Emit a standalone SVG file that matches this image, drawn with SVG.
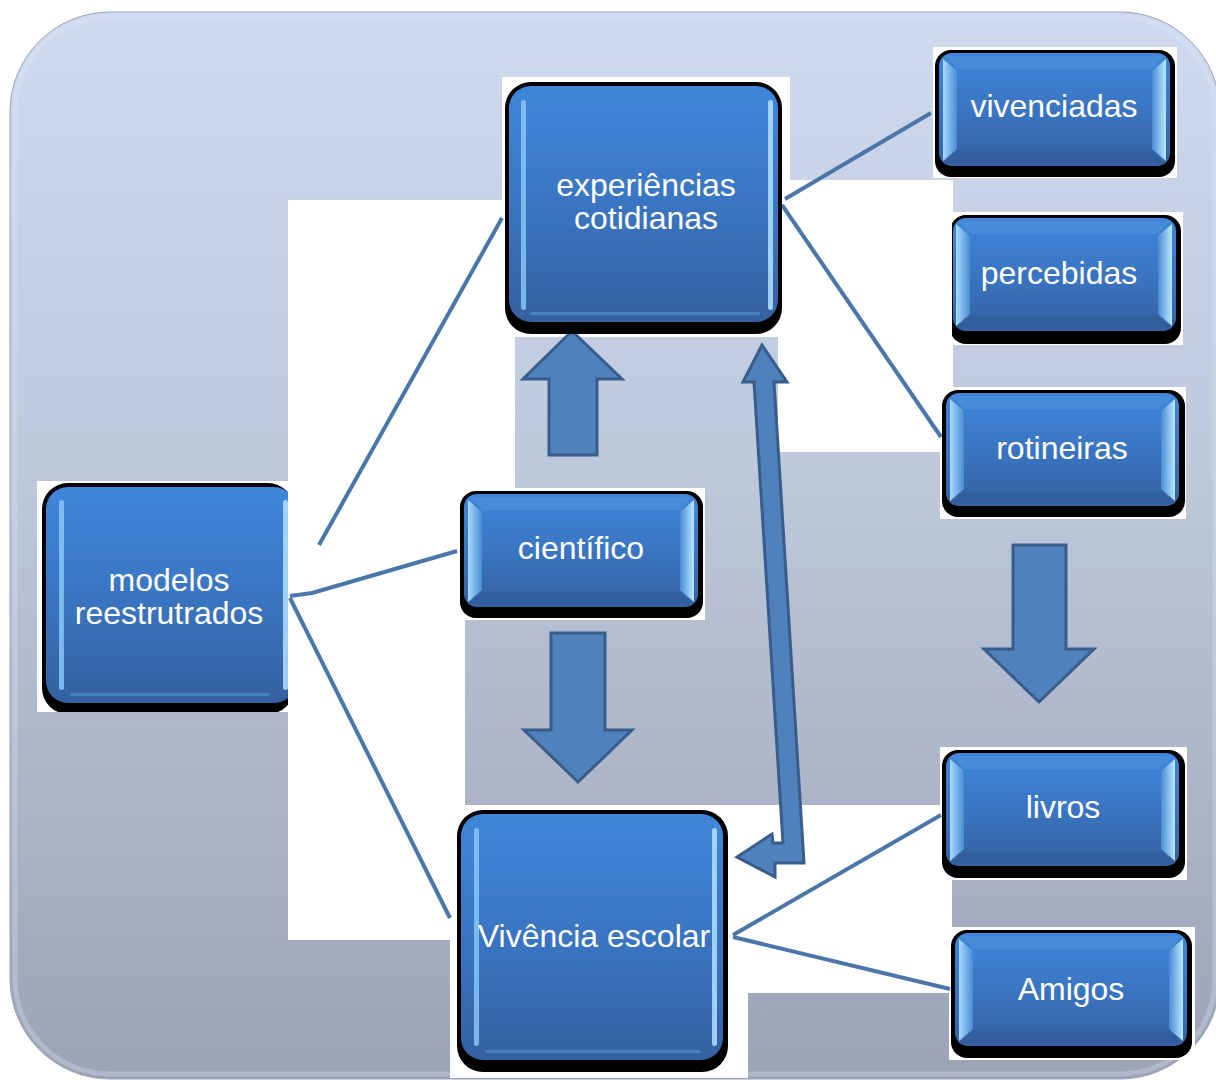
<svg xmlns="http://www.w3.org/2000/svg" width="1216" height="1080" viewBox="0 0 1216 1080">
<defs>
<linearGradient id="bg" gradientUnits="userSpaceOnUse" x1="0" y1="12" x2="0" y2="1079">
<stop offset="0" stop-color="#cfdaef"/>
<stop offset="0.45" stop-color="#bdc7da"/>
<stop offset="1" stop-color="#9ca3b4"/>
</linearGradient>
<linearGradient id="body" x1="0" y1="0" x2="0" y2="1">
<stop offset="0" stop-color="#3f86da"/>
<stop offset="0.5" stop-color="#3a75c2"/>
<stop offset="1" stop-color="#3461a0"/>
</linearGradient>
<linearGradient id="bevL" x1="0" y1="0" x2="1" y2="0">
<stop offset="0" stop-color="#a6dbff"/>
<stop offset="1" stop-color="#4a8bd4"/>
</linearGradient>
<linearGradient id="bevR" x1="0" y1="0" x2="1" y2="0">
<stop offset="0" stop-color="#4a8bd4"/>
<stop offset="1" stop-color="#b8e8ff"/>
</linearGradient>
<clipPath id="clipM"><rect x="37" y="481" width="251" height="231"/></clipPath>
<clipPath id="clipP"><rect x="952" y="212" width="231" height="133"/></clipPath>
<style>
.w{fill:#ffffff}
.sh{fill:#000000}
.bd{fill:url(#body)}
.bl{fill:url(#bevL)}
.br{fill:url(#bevR)}
.bt{fill:#5a9be0;opacity:0.35}
.bb{fill:#2c5590;opacity:0.35}
.hl{fill:#8ccaf8;opacity:0.8}
.hr{fill:#b0e2ff;opacity:0.85}
.t{font-family:"Liberation Sans",Arial,sans-serif;font-size:32px;fill:#ffffff;text-anchor:middle}
.ln{stroke:#4a76aa;stroke-width:4;fill:none;stroke-linecap:butt}
.ar{fill:#4f81bd;stroke:#385d8a;stroke-width:3;stroke-linejoin:miter}
</style>
</defs>

<rect x="10" y="12" width="1210" height="1067" rx="100" ry="100" fill="url(#bg)" stroke="#9aa3b8" stroke-width="1"/>
<rect x="15" y="17" width="1200" height="1057" rx="95" ry="95" fill="none" stroke="#dfe7f7" stroke-opacity="0.3" stroke-width="5"/>

<g id="patches">
<rect class="w" x="502" y="77" width="288" height="260"/>
<rect class="w" x="288" y="200" width="227" height="288"/>
<rect class="w" x="288" y="488" width="177" height="452"/>
<rect class="w" x="778" y="180" width="175" height="272"/>
<rect class="w" x="933" y="47" width="244" height="131"/>
<rect class="w" x="952" y="212" width="231" height="133"/>
<rect class="w" x="940" y="387" width="246" height="132"/>
<rect class="w" x="37" y="481" width="251" height="231"/>
<rect class="w" x="460" y="488" width="245" height="132"/>
<rect class="w" x="450" y="805" width="298" height="273"/>
<rect class="w" x="735" y="805" width="217" height="188"/>
<rect class="w" x="940" y="747" width="247" height="133"/>
<rect class="w" x="949" y="927" width="246" height="133"/>
</g>

<g id="connectors">
<line class="ln" x1="319" y1="545" x2="502" y2="218"/>
<polyline class="ln" points="290,596 312,593 457,551"/>
<line class="ln" x1="290" y1="598" x2="450" y2="918"/>
<line class="ln" x1="785" y1="199" x2="931" y2="113"/>
<line class="ln" x1="782" y1="205" x2="941" y2="437"/>
<line class="ln" x1="733" y1="935" x2="941" y2="815"/>
<line class="ln" x1="733" y1="937" x2="950" y2="989"/>
<polygon class="ar" points="572,331 622,379 597,379 597,455 549,455 549,379 523,379"/>
<polygon class="ar" points="551,633 605,633 605,730 632,730 578,782 524,730 551,730"/>
<polygon class="ar" points="1013,545 1066,545 1066,649 1094,649 1039,702 984,649 1013,649"/>
<polygon class="ar" points="762,345 787,382 774,382 804,863 775,863 775,877 737,857 772,834 773,843 783,843 754,382 743,382"/>
</g>

<g id="n-exp">
<rect class="sh" x="505" y="82" width="277" height="252" rx="26"/>
<rect class="bd" x="509" y="86" width="269" height="236" rx="22"/>
<rect class="hl" x="521" y="100" width="5" height="210" rx="2.5"/>
<rect class="hr" x="768" y="100" width="5" height="210" rx="2.5"/>
<rect fill="#5d9de0" opacity="0.5" x="530" y="312" width="230" height="3" rx="1.5"/>
<text class="t" x="646" y="196">experiências</text>
<text class="t" x="646" y="229">cotidianas</text>
</g>

<g id="n-mod" clip-path="url(#clipM)">
<rect class="sh" x="42" y="483" width="252" height="231" rx="26"/>
<rect class="bd" x="46" y="487" width="250" height="216" rx="22"/>
<rect class="hl" x="59" y="500" width="5" height="190" rx="2.5"/>
<rect class="hr" x="283" y="500" width="5" height="190" rx="2.5"/>
<rect fill="#5d9de0" opacity="0.5" x="70" y="693" width="200" height="3" rx="1.5"/>
<text class="t" x="169" y="591">modelos</text>
<text class="t" x="169" y="624">reestrutrados</text>
</g>

<g id="n-viv">
<rect class="sh" x="457" y="810" width="271" height="262" rx="26"/>
<rect class="bd" x="461" y="814" width="262" height="246" rx="22"/>
<rect class="hl" x="474" y="828" width="5" height="218" rx="2.5"/>
<rect class="hr" x="712" y="828" width="5" height="218" rx="2.5"/>
<rect fill="#5d9de0" opacity="0.5" x="485" y="1050" width="215" height="3" rx="1.5"/>
<text class="t" x="594" y="947">Vivência escolar</text>
</g>

<g id="n-cie">
<rect class="sh" x="460" y="491" width="243" height="127" rx="16"/>
<rect class="bd" x="464" y="494" width="234" height="113" rx="13"/>
<polygon class="bt" points="470,497 692,497 680,510 482,510"/>
<polygon class="bb" points="482,592 680,592 692,604 470,604"/>
<polygon class="bl" points="468,500 482,512 482,590 468,602"/>
<polygon class="br" points="680,512 694,500 694,602 680,590"/>
<text class="t" x="581" y="559">científico</text>
</g>

<g id="n-vivenc">
<rect class="sh" x="935" y="50" width="240" height="127" rx="16"/>
<rect class="bd" x="939" y="53" width="231" height="113" rx="13"/>
<polygon class="bt" points="945,56 1164,56 1152,69 957,69"/>
<polygon class="bb" points="957,151 1152,151 1164,163 945,163"/>
<polygon class="bl" points="943,59 957,71 957,149 943,161"/>
<polygon class="br" points="1152,71 1166,59 1166,161 1152,149"/>
<text class="t" x="1054" y="117">vivenciadas</text>
</g>

<g id="n-perc" clip-path="url(#clipP)">
<rect class="sh" x="950" y="215" width="231" height="129" rx="16"/>
<rect class="bd" x="953" y="218" width="223" height="113" rx="13"/>
<polygon class="bt" points="958,221 1170,221 1158,234 970,234"/>
<polygon class="bb" points="970,316 1158,316 1170,328 958,328"/>
<polygon class="bl" points="956,224 970,236 970,314 956,326"/>
<polygon class="br" points="1158,236 1172,224 1172,326 1158,314"/>
<text class="t" x="1059" y="284">percebidas</text>
</g>

<g id="n-rot">
<rect class="sh" x="942" y="390" width="243" height="127" rx="16"/>
<rect class="bd" x="946" y="393" width="233" height="113" rx="13"/>
<polygon class="bt" points="952,396 1173,396 1161,409 964,409"/>
<polygon class="bb" points="964,491 1161,491 1173,503 952,503"/>
<polygon class="bl" points="950,399 964,411 964,489 950,501"/>
<polygon class="br" points="1161,411 1175,399 1175,501 1161,489"/>
<text class="t" x="1062" y="459">rotineiras</text>
</g>

<g id="n-liv">
<rect class="sh" x="942" y="750" width="243" height="128" rx="16"/>
<rect class="bd" x="946" y="753" width="233" height="113" rx="13"/>
<polygon class="bt" points="952,756 1173,756 1161,769 964,769"/>
<polygon class="bb" points="964,851 1161,851 1173,863 952,863"/>
<polygon class="bl" points="950,759 964,771 964,849 950,861"/>
<polygon class="br" points="1161,771 1175,759 1175,861 1161,849"/>
<text class="t" x="1063" y="818">livros</text>
</g>

<g id="n-ami">
<rect class="sh" x="951" y="930" width="241" height="128" rx="16"/>
<rect class="bd" x="955" y="933" width="232" height="113" rx="13"/>
<polygon class="bt" points="961,936 1181,936 1169,949 973,949"/>
<polygon class="bb" points="973,1031 1169,1031 1181,1043 961,1043"/>
<polygon class="bl" points="959,939 973,951 973,1029 959,1041"/>
<polygon class="br" points="1169,951 1183,939 1183,1041 1169,1029"/>
<text class="t" x="1071" y="1000">Amigos</text>
</g>
</svg>
